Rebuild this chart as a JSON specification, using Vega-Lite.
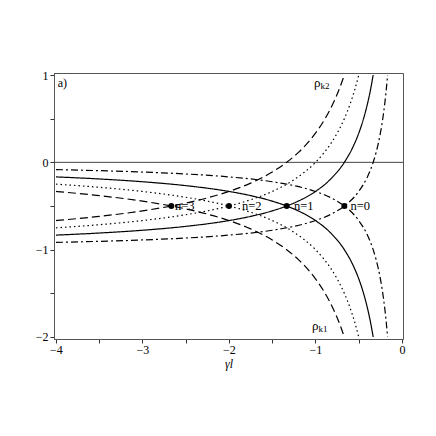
{
  "$schema": "https://vega.github.io/schema/vega-lite/v6.json",
  "width": 349,
  "height": 266,
  "autosize": {"type": "none"},
  "padding": {"left": 54, "top": 73, "right": 33, "bottom": 97},
  "background": "white",
  "config": {
    "view": {"stroke": "#555", "strokeWidth": 1},
    "axis": {
      "labelFont": "Liberation Serif, Times New Roman, serif", "labelFontSize": 12, "labelColor": "black",
      "titleFont": "Liberation Serif, Times New Roman, serif", "titleFontSize": 12, "titleColor": "black", "titleFontWeight": "normal",
      "domainColor": "#555", "tickColor": "#333", "tickSize": 4, "grid": false
    },
    "text": {"font": "Liberation Serif, Times New Roman, serif", "color": "black"}
  },
  "datasets": {
    "curves": [
      {"n":"0","b":"k1","x":-4,"y":-0.0833},{"n":"0","b":"k1","x":-3.5,"y":-0.0952},{"n":"0","b":"k1","x":-3,"y":-0.1111},{"n":"0","b":"k1","x":-2.5,"y":-0.1333},{"n":"0","b":"k1","x":-2,"y":-0.1667},{"n":"0","b":"k1","x":-1.5,"y":-0.2222},{"n":"0","b":"k1","x":-1.25,"y":-0.2667},{"n":"0","b":"k1","x":-1,"y":-0.3333},{"n":"0","b":"k1","x":-0.8,"y":-0.4167},{"n":"0","b":"k1","x":-0.6667,"y":-0.5},{"n":"0","b":"k1","x":-0.5,"y":-0.6667},{"n":"0","b":"k1","x":-0.4,"y":-0.8333},{"n":"0","b":"k1","x":-0.3333,"y":-1},{"n":"0","b":"k1","x":-0.3,"y":-1.1111},{"n":"0","b":"k1","x":-0.25,"y":-1.3333},{"n":"0","b":"k1","x":-0.2222,"y":-1.5},{"n":"0","b":"k1","x":-0.2,"y":-1.6667},{"n":"0","b":"k1","x":-0.1818,"y":-1.8333},{"n":"0","b":"k1","x":-0.1667,"y":-2},
      {"n":"0","b":"k2","x":-4,"y":-0.9167},{"n":"0","b":"k2","x":-3.5,"y":-0.9048},{"n":"0","b":"k2","x":-3,"y":-0.8889},{"n":"0","b":"k2","x":-2.5,"y":-0.8667},{"n":"0","b":"k2","x":-2,"y":-0.8333},{"n":"0","b":"k2","x":-1.5,"y":-0.7778},{"n":"0","b":"k2","x":-1.25,"y":-0.7333},{"n":"0","b":"k2","x":-1,"y":-0.6667},{"n":"0","b":"k2","x":-0.8,"y":-0.5833},{"n":"0","b":"k2","x":-0.6667,"y":-0.5},{"n":"0","b":"k2","x":-0.5,"y":-0.3333},{"n":"0","b":"k2","x":-0.4,"y":-0.1667},{"n":"0","b":"k2","x":-0.3333,"y":0},{"n":"0","b":"k2","x":-0.3,"y":0.1111},{"n":"0","b":"k2","x":-0.25,"y":0.3333},{"n":"0","b":"k2","x":-0.2222,"y":0.5},{"n":"0","b":"k2","x":-0.2,"y":0.6667},{"n":"0","b":"k2","x":-0.1818,"y":0.8333},{"n":"0","b":"k2","x":-0.1667,"y":1},
      {"n":"1","b":"k1","x":-4,"y":-0.1667},{"n":"1","b":"k1","x":-3.5,"y":-0.1905},{"n":"1","b":"k1","x":-3,"y":-0.2222},{"n":"1","b":"k1","x":-2.5,"y":-0.2667},{"n":"1","b":"k1","x":-2,"y":-0.3333},{"n":"1","b":"k1","x":-1.75,"y":-0.381},{"n":"1","b":"k1","x":-1.5,"y":-0.4444},{"n":"1","b":"k1","x":-1.3333,"y":-0.5},{"n":"1","b":"k1","x":-1.2,"y":-0.5556},{"n":"1","b":"k1","x":-1,"y":-0.6667},{"n":"1","b":"k1","x":-0.8333,"y":-0.8},{"n":"1","b":"k1","x":-0.6667,"y":-1},{"n":"1","b":"k1","x":-0.5714,"y":-1.1667},{"n":"1","b":"k1","x":-0.5,"y":-1.3333},{"n":"1","b":"k1","x":-0.4444,"y":-1.5},{"n":"1","b":"k1","x":-0.4,"y":-1.6667},{"n":"1","b":"k1","x":-0.3636,"y":-1.8333},{"n":"1","b":"k1","x":-0.3333,"y":-2},
      {"n":"1","b":"k2","x":-4,"y":-0.8333},{"n":"1","b":"k2","x":-3.5,"y":-0.8095},{"n":"1","b":"k2","x":-3,"y":-0.7778},{"n":"1","b":"k2","x":-2.5,"y":-0.7333},{"n":"1","b":"k2","x":-2,"y":-0.6667},{"n":"1","b":"k2","x":-1.75,"y":-0.619},{"n":"1","b":"k2","x":-1.5,"y":-0.5556},{"n":"1","b":"k2","x":-1.3333,"y":-0.5},{"n":"1","b":"k2","x":-1.2,"y":-0.4444},{"n":"1","b":"k2","x":-1,"y":-0.3333},{"n":"1","b":"k2","x":-0.8333,"y":-0.2},{"n":"1","b":"k2","x":-0.6667,"y":0},{"n":"1","b":"k2","x":-0.5714,"y":0.1667},{"n":"1","b":"k2","x":-0.5,"y":0.3333},{"n":"1","b":"k2","x":-0.4444,"y":0.5},{"n":"1","b":"k2","x":-0.4,"y":0.6667},{"n":"1","b":"k2","x":-0.3636,"y":0.8333},{"n":"1","b":"k2","x":-0.3333,"y":1},
      {"n":"2","b":"k1","x":-4,"y":-0.25},{"n":"2","b":"k1","x":-3.5,"y":-0.2857},{"n":"2","b":"k1","x":-3,"y":-0.3333},{"n":"2","b":"k1","x":-2.5,"y":-0.4},{"n":"2","b":"k1","x":-2.25,"y":-0.4444},{"n":"2","b":"k1","x":-2,"y":-0.5},{"n":"2","b":"k1","x":-1.75,"y":-0.5714},{"n":"2","b":"k1","x":-1.5,"y":-0.6667},{"n":"2","b":"k1","x":-1.25,"y":-0.8},{"n":"2","b":"k1","x":-1,"y":-1},{"n":"2","b":"k1","x":-0.9,"y":-1.1111},{"n":"2","b":"k1","x":-0.8333,"y":-1.2},{"n":"2","b":"k1","x":-0.75,"y":-1.3333},{"n":"2","b":"k1","x":-0.6667,"y":-1.5},{"n":"2","b":"k1","x":-0.6,"y":-1.6667},{"n":"2","b":"k1","x":-0.5455,"y":-1.8333},{"n":"2","b":"k1","x":-0.5,"y":-2},
      {"n":"2","b":"k2","x":-4,"y":-0.75},{"n":"2","b":"k2","x":-3.5,"y":-0.7143},{"n":"2","b":"k2","x":-3,"y":-0.6667},{"n":"2","b":"k2","x":-2.5,"y":-0.6},{"n":"2","b":"k2","x":-2.25,"y":-0.5556},{"n":"2","b":"k2","x":-2,"y":-0.5},{"n":"2","b":"k2","x":-1.75,"y":-0.4286},{"n":"2","b":"k2","x":-1.5,"y":-0.3333},{"n":"2","b":"k2","x":-1.25,"y":-0.2},{"n":"2","b":"k2","x":-1,"y":0},{"n":"2","b":"k2","x":-0.9,"y":0.1111},{"n":"2","b":"k2","x":-0.8333,"y":0.2},{"n":"2","b":"k2","x":-0.75,"y":0.3333},{"n":"2","b":"k2","x":-0.6667,"y":0.5},{"n":"2","b":"k2","x":-0.6,"y":0.6667},{"n":"2","b":"k2","x":-0.5455,"y":0.8333},{"n":"2","b":"k2","x":-0.5,"y":1},
      {"n":"3","b":"k1","x":-4,"y":-0.3333},{"n":"3","b":"k1","x":-3.5,"y":-0.381},{"n":"3","b":"k1","x":-3,"y":-0.4444},{"n":"3","b":"k1","x":-2.6667,"y":-0.5},{"n":"3","b":"k1","x":-2.5,"y":-0.5333},{"n":"3","b":"k1","x":-2.25,"y":-0.5926},{"n":"3","b":"k1","x":-2,"y":-0.6667},{"n":"3","b":"k1","x":-1.75,"y":-0.7619},{"n":"3","b":"k1","x":-1.5,"y":-0.8889},{"n":"3","b":"k1","x":-1.3333,"y":-1},{"n":"3","b":"k1","x":-1.2,"y":-1.1111},{"n":"3","b":"k1","x":-1.0667,"y":-1.25},{"n":"3","b":"k1","x":-1,"y":-1.3333},{"n":"3","b":"k1","x":-0.8889,"y":-1.5},{"n":"3","b":"k1","x":-0.8,"y":-1.6667},{"n":"3","b":"k1","x":-0.7273,"y":-1.8333},{"n":"3","b":"k1","x":-0.6667,"y":-2},
      {"n":"3","b":"k2","x":-4,"y":-0.6667},{"n":"3","b":"k2","x":-3.5,"y":-0.619},{"n":"3","b":"k2","x":-3,"y":-0.5556},{"n":"3","b":"k2","x":-2.6667,"y":-0.5},{"n":"3","b":"k2","x":-2.5,"y":-0.4667},{"n":"3","b":"k2","x":-2.25,"y":-0.4074},{"n":"3","b":"k2","x":-2,"y":-0.3333},{"n":"3","b":"k2","x":-1.75,"y":-0.2381},{"n":"3","b":"k2","x":-1.5,"y":-0.1111},{"n":"3","b":"k2","x":-1.3333,"y":0},{"n":"3","b":"k2","x":-1.2,"y":0.1111},{"n":"3","b":"k2","x":-1.0667,"y":0.25},{"n":"3","b":"k2","x":-1,"y":0.3333},{"n":"3","b":"k2","x":-0.8889,"y":0.5},{"n":"3","b":"k2","x":-0.8,"y":0.6667},{"n":"3","b":"k2","x":-0.7273,"y":0.8333},{"n":"3","b":"k2","x":-0.6667,"y":1}
    ],
    "crossings": [
      {"n":"0","x":-0.6667,"y":-0.5,"label":"n=0","lx":-0.595},
      {"n":"1","x":-1.3333,"y":-0.5,"label":"n=1","lx":-1.249},
      {"n":"2","x":-2.0,"y":-0.5,"label":"n=2","lx":-1.85},
      {"n":"3","x":-2.6667,"y":-0.5,"label":"n=3","lx":-2.624}
    ],
    "rho": [
      {"main":"ρ","sub":"k2","x":-1.017,"y":0.86},
      {"main":"ρ","sub":"k1","x":-1.04,"y":-1.924}
    ],
    "zero": [{"y":0}],
    "panel": [{"t":"a)","x":-3.98,"y":0.86}]
  },
  "layer": [
    {
      "data": {"name": "zero"},
      "mark": {"type": "rule", "color": "#444", "strokeWidth": 1},
      "encoding": {"y": {"field": "y", "type": "quantitative"}}
    },
    {
      "data": {"name": "curves"},
      "mark": {"type": "line", "color": "black", "strokeWidth": 1.2, "interpolate": "monotone", "clip": true},
      "encoding": {
        "x": {"field": "x", "type": "quantitative",
          "scale": {"domain": [-4.023, 0.0116], "nice": false, "zero": false},
          "axis": {"title": "γl", "titleFontStyle": "italic", "titlePadding": 3,
            "values": [-4, -3.5, -3, -2.5, -2, -1.5, -1, -0.5, 0],
            "labelExpr": "datum.value % 1 == 0 ? format(datum.value, 'd') : ''",
            "labelPadding": 1}},
        "y": {"field": "y", "type": "quantitative",
          "scale": {"domain": [-2.023, 1.023], "nice": false, "zero": false},
          "axis": {"title": null,
            "values": [-2, -1.5, -1, -0.5, 0, 0.5, 1],
            "labelExpr": "datum.value % 1 == 0 ? format(datum.value, 'd') : ''",
            "labelPadding": 2}},
        "detail": {"field": "b", "type": "nominal"},
        "strokeDash": {"field": "n", "type": "nominal", "legend": null,
          "scale": {"domain": ["0", "1", "2", "3"], "range": [[7, 3, 2, 3], [1, 0], [1.5, 3], [8, 4]]}}
      }
    },
    {
      "data": {"name": "crossings"},
      "mark": {"type": "point", "filled": true, "color": "black", "size": 36, "opacity": 1},
      "encoding": {
        "x": {"field": "x", "type": "quantitative"},
        "y": {"field": "y", "type": "quantitative"}
      }
    },
    {
      "data": {"name": "crossings"},
      "mark": {"type": "text", "align": "left", "baseline": "middle", "fontSize": 12.5},
      "encoding": {
        "x": {"field": "lx", "type": "quantitative"},
        "y": {"field": "y", "type": "quantitative"},
        "text": {"field": "label"}
      }
    },
    {
      "data": {"name": "rho"},
      "mark": {"type": "text", "align": "left", "baseline": "alphabetic", "fontSize": 13},
      "encoding": {
        "x": {"field": "x", "type": "quantitative"},
        "y": {"field": "y", "type": "quantitative"},
        "text": {"field": "main"}
      }
    },
    {
      "data": {"name": "rho"},
      "mark": {"type": "text", "align": "left", "baseline": "alphabetic", "fontSize": 9, "dx": 6.5, "dy": 2},
      "encoding": {
        "x": {"field": "x", "type": "quantitative"},
        "y": {"field": "y", "type": "quantitative"},
        "text": {"field": "sub"}
      }
    },
    {
      "data": {"name": "panel"},
      "mark": {"type": "text", "align": "left", "baseline": "alphabetic", "fontSize": 12},
      "encoding": {
        "x": {"field": "x", "type": "quantitative"},
        "y": {"field": "y", "type": "quantitative"},
        "text": {"field": "t"}
      }
    }
  ]
}
